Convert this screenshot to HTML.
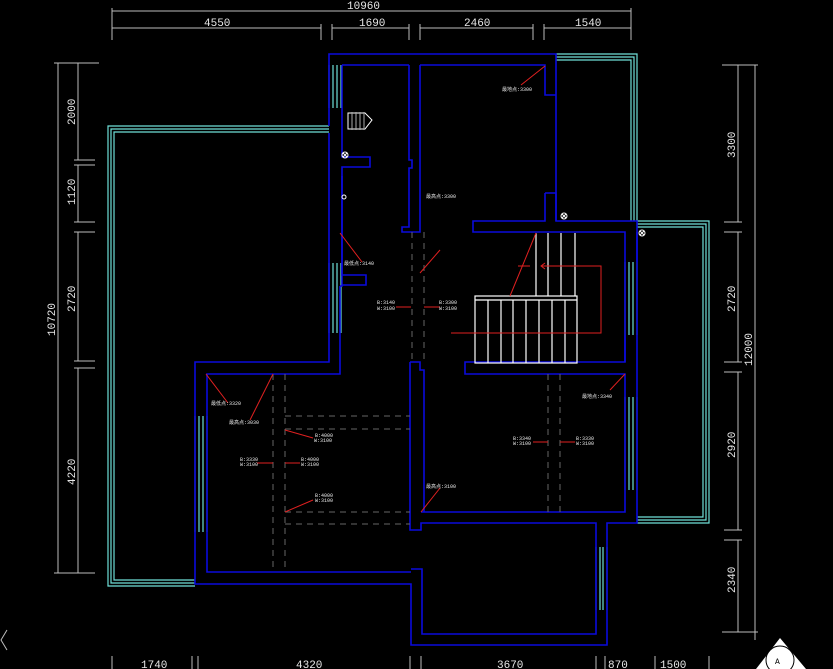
<!DOCTYPE html>
<html><head><meta charset="utf-8"><style>
html,body{margin:0;padding:0;background:#000;}
svg{display:block;}
text{font-family:"Liberation Mono","Noto Sans CJK SC",monospace;fill:#e8e8e8;}
.d{stroke:#bdbdbd;stroke-width:1;fill:none;}
.w{stroke:#0a0adc;stroke-width:1.6;fill:none;}
.c{stroke:#6fe0d8;stroke-width:1.2;fill:none;}
.r{stroke:#e02020;stroke-width:1;fill:none;}
.s{stroke:#fff;stroke-width:1.2;fill:none;}
.da{stroke:#666;stroke-width:1;stroke-dasharray:6,5;fill:none;}
.t{font-size:11px;}
.sm{font-size:5px;fill:#ddd;}
</style></head><body>
<svg width="833" height="669" viewBox="0 0 833 669" xmlns="http://www.w3.org/2000/svg">
<rect width="833" height="669" fill="#000"/>
<!-- top dims -->
<g class="d">
<line x1="112" y1="11" x2="631" y2="11"/>
<line x1="112" y1="28" x2="321" y2="28"/><line x1="332" y1="28" x2="409" y2="28"/>
<line x1="420" y1="28" x2="533" y2="28"/><line x1="544" y1="28" x2="631" y2="28"/>
<line x1="112" y1="8" x2="112" y2="40"/><line x1="631" y1="8" x2="631" y2="40"/>
<line x1="321" y1="24" x2="321" y2="40"/><line x1="332" y1="24" x2="332" y2="40"/>
<line x1="409" y1="24" x2="409" y2="40"/><line x1="420" y1="24" x2="420" y2="40"/>
<line x1="533" y1="24" x2="533" y2="40"/><line x1="544" y1="24" x2="544" y2="40"/>
</g>
<text class="t" x="347" y="9">10960</text>
<text class="t" x="204" y="26">4550</text><text class="t" x="359" y="26">1690</text>
<text class="t" x="464" y="26">2460</text><text class="t" x="575" y="26">1540</text>
<!-- left dims -->
<g class="d">
<line x1="58" y1="63" x2="58" y2="573"/>
<line x1="78" y1="63" x2="78" y2="160"/><line x1="78" y1="165" x2="78" y2="222"/>
<line x1="78" y1="232" x2="78" y2="361"/><line x1="78" y1="368" x2="78" y2="573"/>
<line x1="54" y1="63" x2="99" y2="63"/><line x1="54" y1="573" x2="95" y2="573"/>
<line x1="74" y1="160" x2="95" y2="160"/><line x1="74" y1="165" x2="95" y2="165"/>
<line x1="74" y1="222" x2="95" y2="222"/><line x1="74" y1="232" x2="95" y2="232"/>
<line x1="74" y1="361" x2="95" y2="361"/><line x1="74" y1="368" x2="95" y2="368"/>
</g>
<g class="t">
<text transform="translate(75,125) rotate(-90)">2000</text>
<text transform="translate(75,205) rotate(-90)">1120</text>
<text transform="translate(75,312) rotate(-90)">2720</text>
<text transform="translate(75,485) rotate(-90)">4220</text>
<text transform="translate(55,336) rotate(-90)">10720</text>
</g>
<!-- right dims -->
<g class="d">
<line x1="755" y1="65" x2="755" y2="640"/>
<line x1="738" y1="65" x2="738" y2="222"/><line x1="738" y1="232" x2="738" y2="362"/>
<line x1="738" y1="372" x2="738" y2="530"/><line x1="738" y1="540" x2="738" y2="632"/>
<line x1="722" y1="65" x2="758" y2="65"/>
<line x1="724" y1="222" x2="742" y2="222"/><line x1="724" y1="232" x2="742" y2="232"/>
<line x1="724" y1="362" x2="742" y2="362"/><line x1="724" y1="372" x2="742" y2="372"/>
<line x1="724" y1="530" x2="742" y2="530"/><line x1="724" y1="540" x2="742" y2="540"/>
<line x1="722" y1="632" x2="758" y2="632"/>
</g>
<g class="t">
<text transform="translate(735,158) rotate(-90)">3300</text>
<text transform="translate(735,312) rotate(-90)">2720</text>
<text transform="translate(752,366) rotate(-90)">12000</text>
<text transform="translate(735,458) rotate(-90)">2920</text>
<text transform="translate(735,593) rotate(-90)">2340</text>
</g>
<!-- bottom dims -->
<g class="d">
<line x1="112" y1="656" x2="112" y2="669"/><line x1="192" y1="656" x2="192" y2="669"/>
<line x1="198" y1="656" x2="198" y2="669"/><line x1="410" y1="656" x2="410" y2="669"/>
<line x1="421" y1="656" x2="421" y2="669"/><line x1="596" y1="656" x2="596" y2="669"/>
<line x1="605" y1="656" x2="605" y2="669"/><line x1="655" y1="656" x2="655" y2="669"/>
<line x1="709" y1="656" x2="709" y2="669"/>
</g>
<text class="t" x="141" y="668">1740</text><text class="t" x="296" y="668">4320</text>
<text class="t" x="497" y="668">3670</text><text class="t" x="608" y="668">870</text>
<text class="t" x="660" y="668">1500</text>
<path d="M7 630 L1 640 L7 650" class="d"/>
<!-- cyan terraces -->
<g class="c">
<path d="M329 126 H108 V586 H195"/><path d="M329 129 H111 V583 H195"/><path d="M329 132 H114 V580 H195"/>
<path d="M556 54 H637 V221"/><path d="M556 57 H634 V221"/><path d="M556 60 H631 V221"/>
<path d="M637 221 H709 V523 H637"/><path d="M637 224 H706 V520 H637"/><path d="M637 227 H703 V517 H637"/>
<!-- windows -->
<path d="M329 65 V108 M333 65 V108 M337 65 V108 M341 65 V108"/>
<path d="M329 263 V333 M333 263 V333 M337 263 V333 M341 263 V333"/>
<path d="M195 416 V532 M199 416 V532 M203 416 V532 M207 416 V532"/>
<path d="M625 262 V335 M629 262 V335 M633 262 V335 M637 262 V335"/>
<path d="M625 397 V490 M629 397 V490 M633 397 V490 M637 397 V490"/>
<path d="M596 547 V610 M600 547 V610 M603 547 V610 M607 547 V610"/>
</g>
<!-- blue walls -->
<g class="w">
<path d="M329 126 V54 H556 V221 H637 V523 H607 V645 H411 V584 H195 V362 H329 V133"/>
<path d="M342 65 V157 H370 V167 H342 V286 H340"/>
<path d="M342 176 V275 H366 V285 H342"/>
<path d="M340 286 V374 H207 V572 H411"/>
<path d="M409 65 V160 H412 V168 H409 V227 H402 V232 H420 V227 H420 V65"/>
<path d="M342 65 H409 M420 65 H545 V95 H556"/>
<path d="M545 193 H556 V221 M545 193 V221 H473 V232 H625 V362 H465 V374 H625 V512 H421"/>
<path d="M410 362 H420 V370 H424 V512"/>
<path d="M410 362 V530 H421 V523 H596 V634 H422 V569 H411"/>
<path d="M637 232 V262 M625 335 V362"/>
</g>
<!-- dashed -->
<g class="da">
<path d="M412 232 V362 M424 232 V362"/>
<path d="M273 374 V572 M285 374 V572"/>
<path d="M285 416 H410 M285 429 H410 M285 512 H410 M285 524 H410"/>
<path d="M548 374 V512 M560 374 V512"/>
</g>
<!-- stairs -->
<g class="s">
<rect x="475" y="296" width="102" height="67"/>
<line x1="475" y1="300" x2="577" y2="300"/>
<path d="M488 300 V363 M501 300 V363 M513 300 V363 M526 300 V363 M539 300 V363 M552 300 V363 M565 300 V363"/>
<path d="M536 233 V296 M548 233 V296 M561 233 V296 M575 233 V296"/>
</g>
<g class="r">
<path d="M451 333 H601 V266 H541"/><path d="M545 263 L541 266 L545 269"/>
<path d="M536 233 L510 296"/><path d="M518 266 H530"/>
<path d="M545 66 L521 85"/><path d="M420 273 L440 250"/>
<path d="M340 233 L362 262"/><path d="M206 374 L228 403"/><path d="M273 374 L250 420"/>
<path d="M625 374 L610 390"/><path d="M421 512 L440 488"/>
<path d="M285 430 L313 438"/><path d="M285 512 L313 500"/>
<path d="M257 463 H273 M285 463 H300"/><path d="M396 307 H411 M424 307 H440"/>
<path d="M533 442 H548 M560 442 H575"/>
</g>
<!-- small labels -->
<g class="sm">
<text x="502" y="91">最地点:3300</text>
<text x="426" y="198">最高点:3300</text>
<text x="344" y="265">最低点:3140</text>
<text x="211" y="405">最低点:3320</text>
<text x="229" y="424">最高点:3030</text>
<text x="582" y="398">最地点:3340</text>
<text x="426" y="488">最高点:3100</text>
<text x="377" y="304">B:3140</text><text x="377" y="310">W:3100</text>
<text x="439" y="304">B:3300</text><text x="439" y="310">W:3100</text>
<text x="315" y="437">B:4000</text><text x="314" y="442">W:3100</text>
<text x="240" y="461">B:3330</text><text x="240" y="466">W:3100</text>
<text x="301" y="461">B:4000</text><text x="301" y="466">W:3100</text>
<text x="315" y="497">B:4000</text><text x="315" y="502">W:3100</text>
<text x="513" y="440">B:3340</text><text x="513" y="445">W:3100</text>
<text x="576" y="440">B:3330</text><text x="576" y="445">W:3100</text>
</g>
<!-- fixtures -->
<g stroke="#fff" fill="none" stroke-width="1">
<circle cx="345" cy="155" r="3"/><path d="M343 153 L347 157 M347 153 L343 157"/>
<circle cx="564" cy="216" r="3"/><path d="M562 214 L566 218 M566 214 L562 218"/>
<circle cx="642" cy="233" r="3"/><path d="M640 231 L644 235 M644 231 L640 235"/>
<circle cx="344" cy="197" r="2"/>
<path d="M348 113 H365 L372 120 L365 129 H348 Z"/>
<path d="M352 112 V130 M356 112 V130 M360 112 V130 M364 112 V130" stroke="#aaa"/>
</g>
<!-- compass -->
<g stroke="#fff" fill="none" stroke-width="1">
<path d="M756 669 L780 638 L806 669" fill="#fff" stroke="none"/>
<circle cx="780" cy="660" r="14" stroke="#000"/>
</g>
<text x="775" y="664" style="font-size:8px;fill:#000">A</text>
</svg>
</body></html>
